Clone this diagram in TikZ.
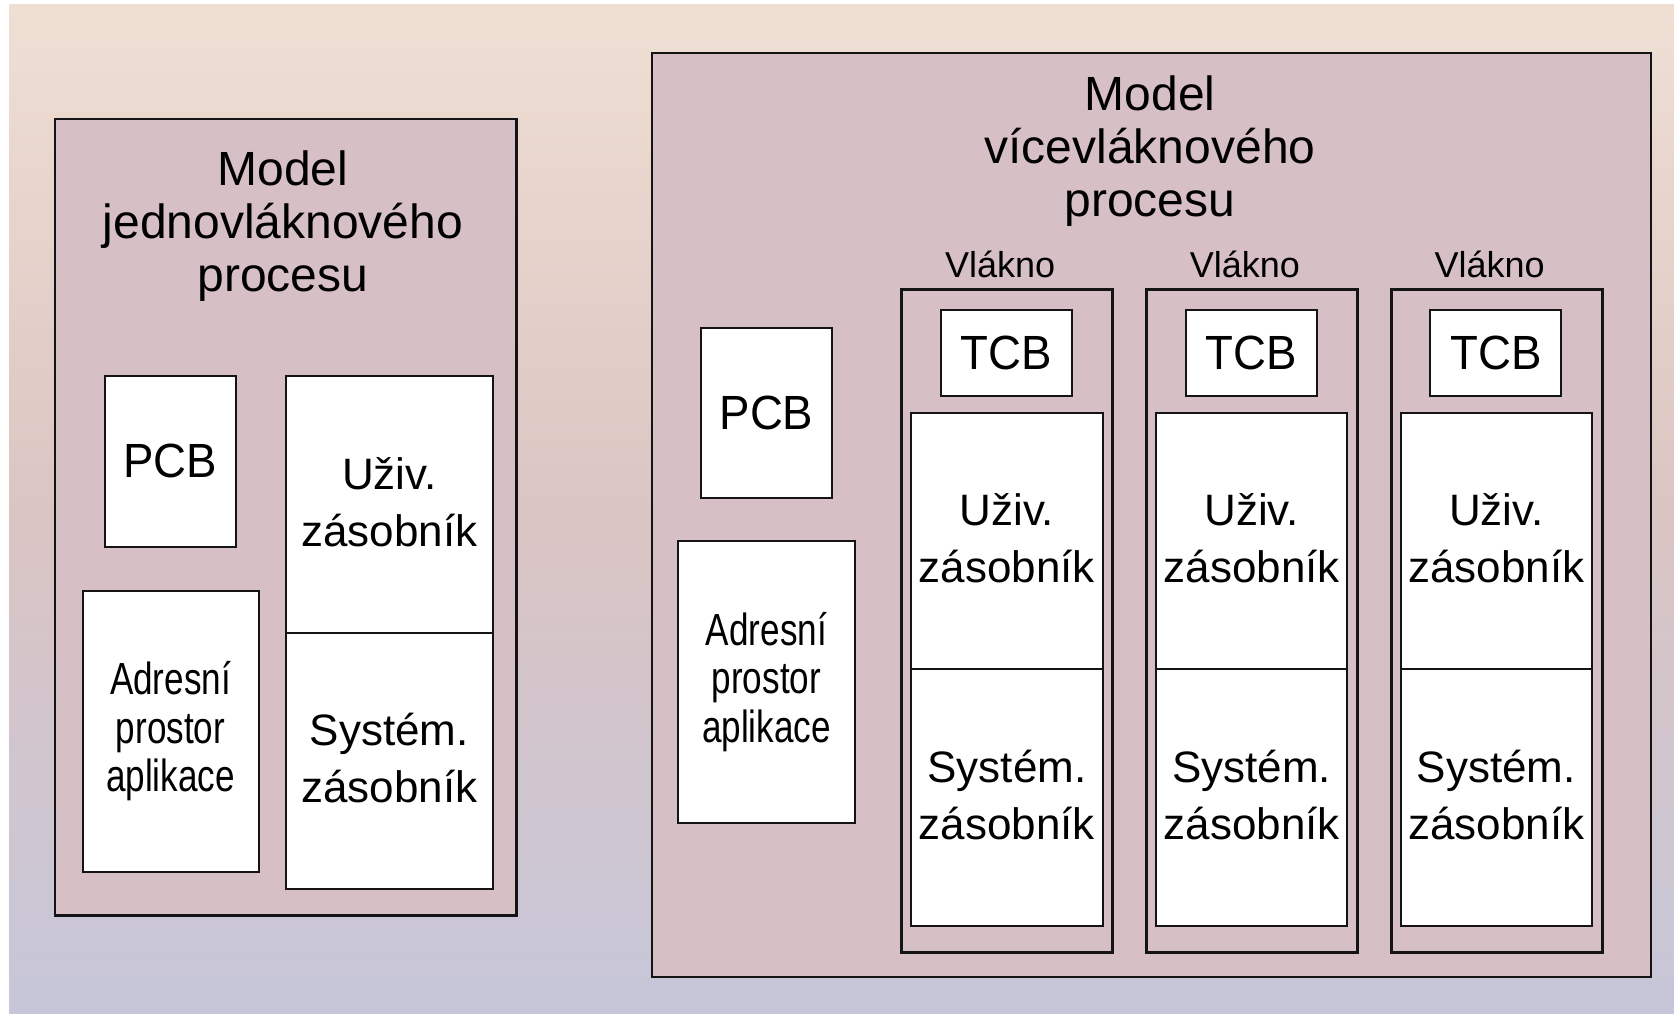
\documentclass[tikz,border=0pt]{standalone}
\usepackage{fontspec}
\usetikzlibrary{shadows}
\setmainfont{Liberation Sans}
\newfontfamily\labelfont{Liberation Sans}
\newfontfamily\blockfont[FakeStretch=0.95]{Liberation Sans}
\newfontfamily\narrowfont[FakeStretch=0.78]{Liberation Sans}

\definecolor{panelfill}{HTML}{D7BFC6}
\definecolor{bgtop}{HTML}{EFDFD3}
\definecolor{bgmid}{HTML}{DBC5C3}
\definecolor{bgbot}{HTML}{C6C6D9}
\definecolor{edge}{HTML}{141414}

% rectangle node given by its corners: style, name, x1, y1, x2, y2, text
\newcommand\rectnode[7]{%
  \node[#1, minimum width={(#5)-(#3)}, minimum height={(#6)-(#4)}]
    (#2) at ({((#3)+(#5))/2},{((#4)+(#6))/2}) {#7};}

\tikzset{
  panel/.style={draw=edge, line width=2.2pt, fill=panelfill, inner sep=0pt, outer sep=0pt,
    drop shadow={shadow xshift=1pt, shadow yshift=-1pt, fill=black!55, opacity=0.8}},
  threadbox/.style={panel, line width=3pt},
  cell/.style={draw=edge, line width=2pt, fill=white, inner sep=0pt, outer sep=0pt, align=center,
    drop shadow={shadow xshift=1pt, shadow yshift=-1pt, fill=black!55, opacity=0.8}},
  ctrl/.style={cell, font=\blockfont\fontsize{48}{53}\selectfont},
  stack/.style={cell, text depth=6pt, font=\labelfont\fontsize{44}{57}\selectfont},
  addr/.style={cell, font=\narrowfont\fontsize{45}{48.5}\selectfont},
  title/.style={align=center, inner sep=0pt, font=\labelfont\fontsize{48}{53}\selectfont},
  threadlabel/.style={anchor=base, inner sep=0pt, font=\labelfont\fontsize{36}{40}\selectfont},
}

\begin{document}
\begin{tikzpicture}[x=1pt, y=-1pt]
  \useasboundingbox (0,0) rectangle (1674,1014);
  % soft background wash
  \shade[top color=bgtop, bottom color=bgbot, middle color=bgmid] (9,4.5) rectangle (1674,1014);

  % single-threaded process
  \rectnode{panel}{single}{55}{119}{516.5}{915.5}{}
  \node[title] (singletitle) at (283,226) {Model\\jednovláknového\\procesu};
  \rectnode{ctrl}{spcb}{105}{376}{235.7}{546.7}{PCB}
  \rectnode{addr}{saddr}{82.5}{590.5}{258.5}{872}{Adresní\\prostor\\aplikace}
  \rectnode{stack}{suser}{286}{376}{492.8}{633}{Uživ.\\zásobník}
  \rectnode{stack}{ssys}{286}{633}{492.8}{889}{Systém.\\zásobník}

  % multi-threaded process
  \rectnode{panel}{multi}{651.7}{53}{1650.7}{977}{}
  \node[title] (multititle) at (1150,151) {Model\\vícevláknového\\procesu};
  \rectnode{ctrl}{mpcb}{701}{327.5}{832}{498}{PCB}
  \rectnode{addr}{maddr}{678.3}{540.7}{854.5}{823}{Adresní\\prostor\\aplikace}

  \foreach \i in {1,2,3} {
    \pgfmathsetmacro\xl{901.7+(\i-1)*244.7}
    \rectnode{threadbox}{thread\i}{\xl}{289.3}{\xl+211}{952}{}
    \node[threadlabel] (vlabel\i) at ({\xl+98.5},277.6) {Vlákno};
    \rectnode{ctrl}{tcb\i}{\xl+39.3}{310}{\xl+170.3}{395.7}{TCB}
    \rectnode{stack}{tuser\i}{\xl+9.5}{413.3}{\xl+201}{669.4}{Uživ.\\zásobník}
    \rectnode{stack}{tsys\i}{\xl+9.5}{669.4}{\xl+201}{925.7}{Systém.\\zásobník}
  }
\end{tikzpicture}
\end{document}
